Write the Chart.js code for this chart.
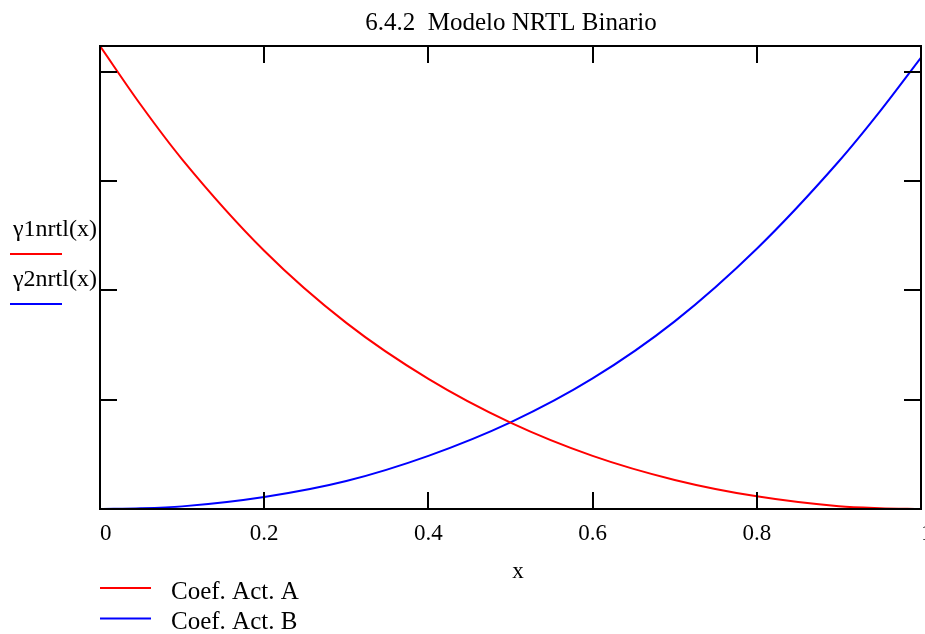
<!DOCTYPE html>
<html>
<head>
<meta charset="utf-8">
<title>6.4.2 Modelo NRTL Binario</title>
<script src="https://cdn.jsdelivr.net/npm/chart.js@4.4.1/dist/chart.umd.min.js"></script>
<style>
  body { margin: 0; background: #fff; }
  #wrap { width: 925px; height: 634px; }
</style>
</head>
<body>
<div id="wrap"><canvas id="nrtlChart" width="925" height="634"></canvas></div>
<script>
// Data
const chartTitle = '6.4.2  Modelo NRTL Binario';
const xValues = [0, 0.05, 0.1, 0.2, 0.3, 0.4, 0.5, 0.6, 0.7, 0.8, 0.9, 0.95, 1];
const gamma1 = [3.117, 2.846, 2.599, 2.181, 1.851, 1.595, 1.395, 1.243, 1.133, 1.058, 1.013, 1.004, 1.000];
const gamma2 = [1.000, 1.003, 1.012, 1.055, 1.128, 1.243, 1.396, 1.597, 1.858, 2.190, 2.590, 2.818, 3.064];
const seriesNames = ['Coef. Act. A', 'Coef. Act. B'];
const axisNames = ['\u03b31nrtl(x)', '\u03b32nrtl(x)'];
const seriesColors = ['#ff0000', '#0000ff'];
const xTicks = [0, 0.2, 0.4, 0.6, 0.8, 1];
const xTickLabels = ['0', '0.2', '0.4', '0.6', '0.8', '1'];
const yTicks = [1, 1.5, 2, 2.5, 3];
const yMin = 1, yMax = 3.117;

const serif = '"Liberation Serif", "Times New Roman", serif';

// draws the Mathcad style frame, ticks, labels and legends
const mathcadFrame = {
    id: 'mathcadFrame',
    afterDatasetsDraw(chart) {
        const c = chart.ctx;
        const a = chart.chartArea;
        const xs = chart.scales.x;
        const ys = chart.scales.y;
        const tick = 17;

        c.save();
        c.strokeStyle = '#000';
        c.lineWidth = 2;
        c.strokeRect(a.left, a.top, a.right - a.left, a.bottom - a.top);

        c.beginPath();
        xTicks.forEach(v => {
            const px = Math.round(xs.getPixelForValue(v));
            c.moveTo(px, a.bottom); c.lineTo(px, a.bottom - tick);
            c.moveTo(px, a.top); c.lineTo(px, a.top + tick);
        });
        yTicks.forEach(v => {
            const py = Math.round(ys.getPixelForValue(v));
            c.moveTo(a.left, py); c.lineTo(a.left + tick, py);
            c.moveTo(a.right, py); c.lineTo(a.right - tick, py);
        });
        c.stroke();

        // x tick labels
        c.fillStyle = '#000';
        c.font = '23px ' + serif;
        c.textBaseline = 'middle';
        xTicks.forEach((v, i) => {
            const px = xs.getPixelForValue(v);
            const edge = i === 0 || i === xTicks.length - 1;
            c.textAlign = edge ? 'left' : 'center';
            c.fillText(xTickLabels[i], px, 534);
        });

        // title and x axis name
        c.textAlign = 'center';
        c.font = '25px ' + serif;
        c.fillText(chartTitle, 511, 23);
        c.font = '23px ' + serif;
        c.fillText('x', 518, 572);

        // y axis names with their line samples
        c.textAlign = 'left';
        c.font = '24px ' + serif;
        axisNames.forEach((name, i) => {
            const y0 = 230 + i * 50;
            c.fillStyle = '#000';
            c.fillText(name, 13, y0);
            c.strokeStyle = seriesColors[i];
            c.lineWidth = 2;
            c.beginPath();
            c.moveTo(10, y0 + 24); c.lineTo(62, y0 + 24);
            c.stroke();
        });

        // bottom legend
        c.font = '25px ' + serif;
        seriesNames.forEach((name, i) => {
            const y0 = 588 + i * 30.5;
            c.strokeStyle = seriesColors[i];
            c.lineWidth = 2;
            c.beginPath();
            c.moveTo(100, y0); c.lineTo(151, y0);
            c.stroke();
            c.fillStyle = '#000';
            c.fillText(name, 171, y0 + 4);
        });
        c.restore();
    }
};

const ctx = document.getElementById('nrtlChart').getContext('2d');
const nrtlChart = new Chart(ctx, {
    type: 'line',
    data: {
        datasets: [
            {
                label: seriesNames[0],
                data: xValues.map((x, i) => ({ x: x, y: gamma1[i] })),
                borderColor: seriesColors[0],
                borderWidth: 2,
                pointRadius: 0,
                cubicInterpolationMode: 'monotone',
                fill: false
            },
            {
                label: seriesNames[1],
                data: xValues.map((x, i) => ({ x: x, y: gamma2[i] })),
                borderColor: seriesColors[1],
                borderWidth: 2,
                pointRadius: 0,
                cubicInterpolationMode: 'monotone',
                fill: false
            }
        ]
    },
    options: {
        responsive: false,
        animation: false,
        layout: {
            padding: { left: 100, top: 46, right: 4, bottom: 125 }
        },
        scales: {
            x: { type: 'linear', min: 0, max: 1, display: false },
            y: { type: 'linear', min: yMin, max: yMax, display: false }
        },
        plugins: {
            legend: { display: false },
            tooltip: { enabled: false },
            title: { display: false }
        }
    },
    plugins: [mathcadFrame]
});
</script>
</body>
</html>
